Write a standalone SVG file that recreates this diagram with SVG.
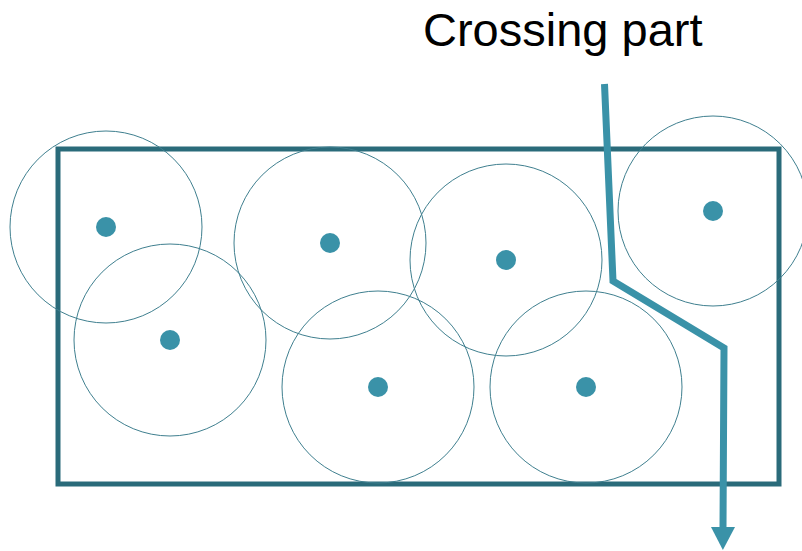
<svg xmlns="http://www.w3.org/2000/svg" width="802" height="551" viewBox="0 0 802 551">
<defs>
<style>
.range{fill:none;stroke:#3f7f8f;stroke-width:1}
.dot{fill:#3a92a8}
.lbl{font-family:"Liberation Sans",Arial,sans-serif;font-size:47px;fill:#000}
</style>
<marker id="ah" markerUnits="userSpaceOnUse" markerWidth="24" markerHeight="24" viewBox="0 0 23 24" refX="0" refY="12" orient="auto">
<path d="M0,0 L23,12 L0,24 Z" fill="#3a92a8"/>
</marker>
</defs>
<rect width="802" height="551" fill="#fff"/>
<g id="area"><rect x="58" y="149" width="721" height="335" fill="none" stroke="#2a6b7a" stroke-width="5"/></g>
<g id="n1"><circle class="range" cx="106" cy="227" r="96"/><circle class="dot" cx="106" cy="227" r="10"/></g>
<g id="n2"><circle class="range" cx="170" cy="340" r="96"/><circle class="dot" cx="170" cy="340" r="10"/></g>
<g id="n3"><circle class="range" cx="330" cy="243" r="96"/><circle class="dot" cx="330" cy="243" r="10"/></g>
<g id="n4"><circle class="range" cx="506" cy="260" r="96"/><circle class="dot" cx="506" cy="260" r="10"/></g>
<g id="n5"><circle class="range" cx="378" cy="387" r="96"/><circle class="dot" cx="378" cy="387" r="10"/></g>
<g id="n6"><circle class="range" cx="586" cy="387" r="96"/><circle class="dot" cx="586" cy="387" r="10"/></g>
<g id="n7"><circle class="range" cx="713" cy="211" r="95"/><circle class="dot" cx="713" cy="211" r="10"/></g>
<g id="connectors">
<polyline points="604.5,84 613,281 724,348 723,527" fill="none" stroke="#3a92a8" stroke-width="7" stroke-linejoin="miter" marker-end="url(#ah)"/>
</g>
<g id="label"><text class="lbl" x="423" y="46">Crossing part</text></g>
</svg>
